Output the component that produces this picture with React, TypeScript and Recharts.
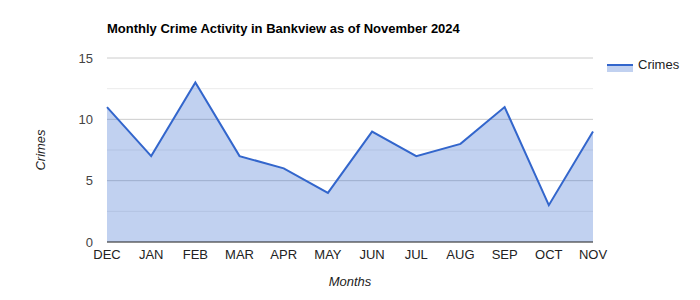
import { AreaChart, Area, XAxis, YAxis, CartesianGrid } from 'recharts';

const months = ['DEC', 'JAN', 'FEB', 'MAR', 'APR', 'MAY', 'JUN', 'JUL', 'AUG', 'SEP', 'OCT', 'NOV'];
const crimes = [11, 7, 13, 7, 6, 4, 9, 7, 8, 11, 3, 9];
const yTicks = [0, 5, 10, 15];
const minorTicks = [2.5, 7.5, 12.5];

const data = months.map((m, i) => ({ month: m, crimes: crimes[i] }));

const FONT = '"Liberation Sans", Arial, sans-serif';
const BLUE = '#3366cc';

export default function App() {
  return (
    <div style={{ position: 'absolute', left: 0, top: 0, width: 700, height: 300, background: '#fff', fontFamily: FONT }}>
      <div style={{ position: 'absolute', left: 107, top: 21, fontSize: 13, fontWeight: 'bold', color: '#000' }}>
        Monthly Crime Activity in Bankview as of November 2024
      </div>

      <AreaChart width={700} height={300} data={data} margin={{ top: 58, right: 107, bottom: 28, left: 47 }}>
        <CartesianGrid vertical={false} horizontalValues={minorTicks} stroke="#ebebeb" />
        <CartesianGrid vertical={false} horizontalValues={yTicks} stroke="#cccccc" />
        <XAxis
          dataKey="month"
          height={30}
          tickLine={false}
          axisLine={{ stroke: '#333333' }}
          tick={{ fill: '#222222', fontSize: 13, fontFamily: FONT }}
          interval={0}
        />
        <YAxis
          width={60}
          domain={[0, 15]}
          ticks={yTicks}
          tickLine={false}
          axisLine={false}
          tickMargin={8}
          tick={{ fill: '#444444', fontSize: 13, fontFamily: FONT }}
        />
        <Area
          type="linear"
          dataKey="crimes"
          stroke={BLUE}
          strokeWidth={2}
          fill={BLUE}
          fillOpacity={0.3}
          dot={false}
          activeDot={false}
          isAnimationActive={false}
        />
      </AreaChart>

      <div style={{ position: 'absolute', left: 40, top: 150, transform: 'translate(-50%, -50%) rotate(-90deg)', fontSize: 13, fontStyle: 'italic', color: '#222' }}>
        Crimes
      </div>
      <div style={{ position: 'absolute', left: 350, top: 274, transform: 'translateX(-50%)', fontSize: 13, fontStyle: 'italic', color: '#222' }}>
        Months
      </div>

      <div style={{ position: 'absolute', left: 607, top: 57, display: 'flex', alignItems: 'center', fontSize: 13, color: '#222' }}>
        <div style={{ width: 26, height: 8, background: 'rgba(51,102,204,0.3)', borderTop: `2px solid ${BLUE}`, boxSizing: 'border-box', marginTop: 6 }} />
        <span style={{ marginLeft: 5 }}>Crimes</span>
      </div>
    </div>
  );
}
